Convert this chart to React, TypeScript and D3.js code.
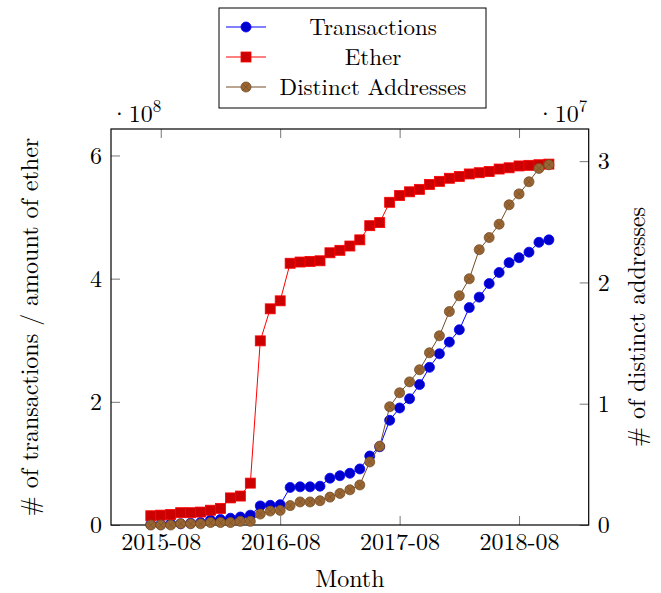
import React, { useEffect, useRef } from 'react';
import * as d3 from 'd3';

// months, one point per month
const months = [
  '2015-07', '2015-08', '2015-09', '2015-10', '2015-11', '2015-12',
  '2016-01', '2016-02', '2016-03', '2016-04', '2016-05', '2016-06',
  '2016-07', '2016-08', '2016-09', '2016-10', '2016-11', '2016-12',
  '2017-01', '2017-02', '2017-03', '2017-04', '2017-05', '2017-06',
  '2017-07', '2017-08', '2017-09', '2017-10', '2017-11', '2017-12',
  '2018-01', '2018-02', '2018-03', '2018-04', '2018-05', '2018-06',
  '2018-07', '2018-08', '2018-09', '2018-10', '2018-11',
];

// left axis, units of 1e8
const transactions = [
  0.01, 0.01, 0.02, 0.02, 0.03, 0.04, 0.08, 0.09, 0.11, 0.13, 0.16,
  0.31, 0.32, 0.33, 0.61, 0.62, 0.62, 0.63, 0.76, 0.80, 0.84, 0.91,
  1.12, 1.27, 1.70, 1.90, 2.05, 2.28, 2.56, 2.78, 2.97, 3.17, 3.53,
  3.70, 3.92, 4.10, 4.26, 4.34, 4.43, 4.59, 4.63,
];

const ether = [
  0.15, 0.16, 0.17, 0.20, 0.20, 0.21, 0.24, 0.27, 0.44, 0.47, 0.68,
  2.99, 3.51, 3.64, 4.25, 4.27, 4.28, 4.29, 4.42, 4.46, 4.53, 4.63,
  4.86, 4.91, 5.24, 5.35, 5.41, 5.45, 5.53, 5.58, 5.63, 5.66, 5.70,
  5.72, 5.74, 5.78, 5.80, 5.83, 5.84, 5.85, 5.86,
];

// right axis, units of 1e7
const distinct = [
  0, 0, 0, 0.01, 0.01, 0.01, 0.02, 0.02, 0.02, 0.03, 0.03,
  0.09, 0.115, 0.12, 0.16, 0.19, 0.19, 0.2, 0.23, 0.26, 0.29, 0.33,
  0.52, 0.65, 0.975, 1.09, 1.18, 1.28, 1.42, 1.56, 1.76, 1.89, 2.03,
  2.27, 2.37, 2.48, 2.64, 2.73, 2.83, 2.94, 2.97,
];

const xTickLabels = ['2015-08', '2016-08', '2017-08', '2018-08'];
const leftTicks = [0, 2, 4, 6];
const rightTicks = [0, 1, 2, 3];

const FONT = '"Latin Modern Roman", "CMU Serif", "Liberation Serif", serif';

const App = () => {
  const svgRef = useRef<SVGSVGElement>(null);

  useEffect(() => {
    const svg = d3.select(svgRef.current);
    svg.selectAll('*').remove();

    const width = 661;
    const height = 593;
    const left = 111;
    const right = 588.7;
    const top = 129;
    const bottom = 525;

    svg.attr('width', width).attr('height', height);

    const x = d3.scaleLinear().domain([-4, 44]).range([left, right]);
    const yL = d3.scaleLinear().domain([0, 6.43]).range([bottom, top]);
    const yR = d3.scaleLinear().domain([0, 3.265]).range([bottom, top]);

    const xTickIdx = xTickLabels.map(l => months.indexOf(l));

    const styleAxis = (g) => {
      g.select('.domain').remove();
      g.selectAll('line').attr('stroke', '#777').attr('stroke-width', 1);
      g.selectAll('text')
        .attr('font-family', FONT)
        .attr('font-size', 24)
        .attr('fill', '#000');
    };

    // X axis bottom + top ticks
    svg.append('g')
      .attr('transform', `translate(0, ${bottom})`)
      .call(d3.axisBottom(x).tickValues(xTickIdx).tickFormat((d, i) => xTickLabels[i]).tickSize(-9).tickPadding(8))
      .call(g => styleAxis(g));

    svg.append('g')
      .attr('transform', `translate(0, ${top})`)
      .call(d3.axisTop(x).tickValues(xTickIdx).tickFormat(() => '').tickSize(-9))
      .call(g => styleAxis(g));

    // Left Y axis
    svg.append('g')
      .attr('transform', `translate(${left}, 0)`)
      .call(d3.axisLeft(yL).tickValues(leftTicks).tickFormat(d3.format('d')).tickSize(-9).tickPadding(9))
      .call(g => styleAxis(g));

    // Right Y axis
    svg.append('g')
      .attr('transform', `translate(${right}, 0)`)
      .call(d3.axisRight(yR).tickValues(rightTicks).tickFormat(d3.format('d')).tickSize(-9).tickPadding(9))
      .call(g => styleAxis(g));

    // frame
    svg.append('rect')
      .attr('x', left).attr('y', top)
      .attr('width', right - left).attr('height', bottom - top)
      .attr('fill', 'none').attr('stroke', '#000').attr('stroke-width', 1.2);

    const series = [
      { name: 'Transactions', values: transactions, y: yL, line: '#0000ff', fill: '#0000cc', stroke: '#0000ff', mark: 'circle' },
      { name: 'Ether', values: ether, y: yL, line: '#ff0000', fill: '#cc0000', stroke: '#ff0000', mark: 'square' },
      { name: 'Distinct Addresses', values: distinct, y: yR, line: '#734d26', fill: '#996633', stroke: '#734d26', mark: 'otimes' },
    ];

    const drawMark = (g, type, cx, cy, s) => {
      if (type === 'circle') {
        g.append('circle').attr('cx', cx).attr('cy', cy).attr('r', 5)
          .attr('fill', s.fill).attr('stroke', s.stroke).attr('stroke-width', 0.8);
      } else if (type === 'square') {
        g.append('rect').attr('x', cx - 5).attr('y', cy - 5).attr('width', 10).attr('height', 10)
          .attr('fill', s.fill).attr('stroke', s.stroke).attr('stroke-width', 0.8);
      } else {
        g.append('circle').attr('cx', cx).attr('cy', cy).attr('r', 5)
          .attr('fill', s.fill).attr('stroke', s.stroke).attr('stroke-width', 0.8);
        const k = 5 * Math.SQRT1_2;
        g.append('path')
          .attr('d', `M${cx - k},${cy - k}L${cx + k},${cy + k}M${cx - k},${cy + k}L${cx + k},${cy - k}`)
          .attr('stroke', s.stroke).attr('stroke-width', 0.6);
      }
    };

    series.forEach(s => {
      const line = d3.line<number>()
        .x((d, i) => x(i))
        .y(d => s.y(d));
      svg.append('path')
        .datum(s.values)
        .attr('d', line)
        .attr('fill', 'none')
        .attr('stroke', s.line)
        .attr('stroke-width', 1);
      const g = svg.append('g');
      s.values.forEach((v, i) => drawMark(g, s.mark, x(i), s.y(v), s));
    });

    // exponent labels
    const expo = (px, exp) => {
      const t = svg.append('text')
        .attr('x', px).attr('y', 122)
        .attr('font-family', FONT).attr('font-size', 24);
      t.append('tspan').text('·10');
      t.append('tspan').attr('font-size', 17).attr('dy', -10).text(exp);
    };
    expo(110, '8');
    expo(536, '7');

    // axis titles
    svg.append('text')
      .attr('transform', `translate(38, ${(top + bottom) / 2}) rotate(-90)`)
      .attr('text-anchor', 'middle')
      .attr('font-family', FONT).attr('font-size', 24)
      .text('# of transactions / amount of ether');

    svg.append('text')
      .attr('transform', `translate(645, ${(top + bottom) / 2}) rotate(-90)`)
      .attr('text-anchor', 'middle')
      .attr('font-family', FONT).attr('font-size', 24)
      .text('# of distinct addresses');

    svg.append('text')
      .attr('x', (left + right) / 2).attr('y', 587)
      .attr('text-anchor', 'middle')
      .attr('font-family', FONT).attr('font-size', 24)
      .text('Month');

    // legend
    const lg = svg.append('g');
    lg.append('rect')
      .attr('x', 219).attr('y', 8).attr('width', 267).attr('height', 100)
      .attr('fill', '#fff').attr('stroke', '#000').attr('stroke-width', 1);
    series.forEach((s, i) => {
      const cy = 27 + i * 30;
      lg.append('line')
        .attr('x1', 226).attr('x2', 266).attr('y1', cy).attr('y2', cy)
        .attr('stroke', s.line).attr('stroke-width', 1);
      drawMark(lg, s.mark, 246, cy, s);
      lg.append('text')
        .attr('x', 373).attr('y', cy + 7.5)
        .attr('text-anchor', 'middle')
        .attr('font-family', FONT).attr('font-size', 23)
        .text(s.name);
    });
  }, []);

  return <svg ref={svgRef} style={{ position: 'absolute', left: 0, top: 0 }}></svg>;
};

export default App;
